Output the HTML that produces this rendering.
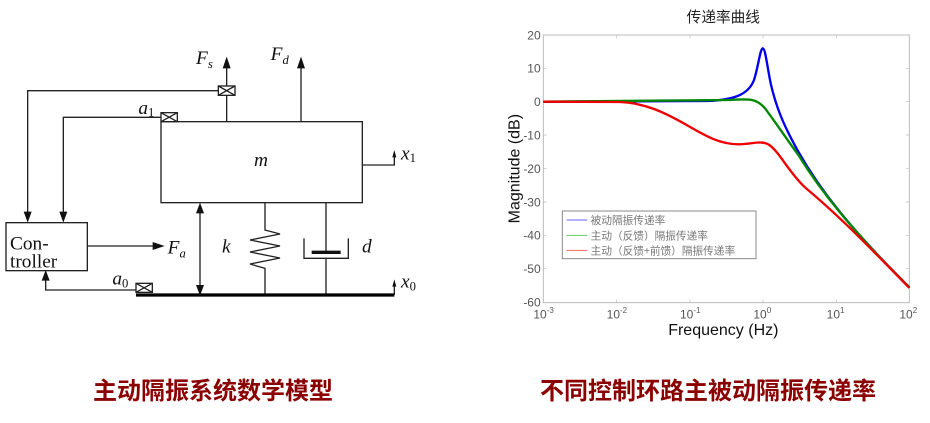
<!DOCTYPE html>
<html><head><meta charset="utf-8"><style>
body{margin:0;width:930px;height:423px;background:#fff;position:relative;overflow:hidden;font-family:"Liberation Sans","Noto Sans CJK SC",sans-serif}
svg{position:absolute}
.cap{position:absolute;top:377px;font-size:24px;line-height:30px;font-weight:bold;color:#8b0000;font-family:"Liberation Sans","Noto Sans CJK SC",sans-serif;white-space:nowrap}
</style></head><body>
<svg style="left:0;top:30px" width="440" height="280" viewBox="0 0 1320 840">
<g stroke="#222" stroke-width="4" fill="none">
<rect x="483" y="275" width="604" height="243"/>
<line x1="680" y1="275" x2="680" y2="110"/>
<line x1="903" y1="275" x2="903" y2="110"/>
<rect x="655" y="168" width="50" height="28" fill="#fff"/>
<path d="M655,168 L705,196 M705,168 L655,196"/>
<rect x="483" y="248" width="49" height="27" fill="#fff"/>
<path d="M483,248 L532,275 M532,248 L483,275"/>
<path d="M483,262 H190 V550"/>
<path d="M655,182 H83 V550"/>
<rect x="18" y="578" width="244" height="144"/>
<path d="M262,648 H465"/>
<path d="M600,545 V770"/>
<path d="M408,780 H137 V748"/>
<rect x="408" y="760" width="49" height="27" fill="#fff"/>
<path d="M408,760 L457,787 M457,760 L408,787"/>
<path d="M795,518 V600 L840,612 L750,630 L840,648 L750,666 L840,684 L750,702 L795,715 V795"/>
<path d="M978,518 V665 M978,685 V795"/>
<path d="M912,625 V685 H1045 V625"/>
<path d="M1087,405 H1183 V380"/>
<path d="M1183,795 V768"/>
</g>
<line x1="935" y1="667" x2="1022" y2="667" stroke="#111" stroke-width="10"/>
<line x1="408" y1="795" x2="1183" y2="795" stroke="#000" stroke-width="10"/>
<g fill="#111">
<path d="M668,115 L692,115 L680,80 Z"/>
<path d="M891,115 L915,115 L903,80 Z"/>
<path d="M178,545 L202,545 L190,578 Z"/>
<path d="M71,545 L95,545 L83,578 Z"/>
<path d="M458,636 L458,660 L494,648 Z"/>
<path d="M588,550 L612,550 L600,518 Z"/>
<path d="M588,765 L612,765 L600,797 Z"/>
<path d="M125,752 L149,752 L137,720 Z"/>
<path d="M1177,382 L1189,382 L1183,360 Z"/>
<path d="M1177,770 L1189,770 L1183,748 Z"/>
</g>
<g font-family="Liberation Serif,serif" font-size="58" fill="#111">
<text x="30" y="658">Con-</text><text x="30" y="712">troller</text>
<text x="588" y="102" font-style="italic">F<tspan font-size="38" dy="12">s</tspan></text>
<text x="812" y="90" font-style="italic">F<tspan font-size="38" dy="12">d</tspan></text>
<text x="503" y="670" font-style="italic">F<tspan font-size="38" dy="12">a</tspan></text>
<text x="415" y="252" font-style="italic">a<tspan font-size="38" dy="8" font-style="normal">1</tspan></text>
<text x="337" y="764" font-style="italic">a<tspan font-size="38" dy="8" font-style="normal">0</tspan></text>
<text x="762" y="408" font-style="italic">m</text>
<text x="666" y="668" font-style="italic">k</text>
<text x="1086" y="668" font-style="italic">d</text>
<text x="1203" y="388" font-style="italic">x<tspan font-size="38" dy="8" font-style="normal">1</tspan></text>
<text x="1203" y="773" font-style="italic">x<tspan font-size="38" dy="8" font-style="normal">0</tspan></text>
</g>
</svg>

<svg style="left:500px;top:0" width="430" height="340" viewBox="0 0 1290 1020">
<rect x="130" y="105" width="1098" height="803" fill="#fff" stroke="#bbb" stroke-width="3"/>
<g stroke="#bbb" stroke-width="2">
<path d="M130,205 h10 M130,305 h10 M130,405 h10 M130,506 h10 M130,606 h10 M130,706 h10 M130,806 h10 M1228,205 h-10 M1228,305 h-10 M1228,405 h-10 M1228,506 h-10 M1228,606 h-10 M1228,706 h-10 M1228,806 h-10"/>
<path d="M350,908 v-10 M570,908 v-10 M789,908 v-10 M1009,908 v-10 M350,105 v10 M570,105 v10 M789,105 v10 M1009,105 v10"/>
</g>
<g font-size="36" fill="#555" text-anchor="end" font-family="Liberation Sans,sans-serif">
<text x="122" y="118">20</text><text x="122" y="218">10</text><text x="122" y="318">0</text><text x="122" y="418">-10</text><text x="122" y="519">-20</text><text x="122" y="619">-30</text><text x="122" y="719">-40</text><text x="122" y="819">-50</text><text x="122" y="920">-60</text>
</g>
<g font-size="36" fill="#555" font-family="Liberation Sans,sans-serif">
<text x="100" y="955">10<tspan font-size="24" dy="-16">-3</tspan></text>
<text x="320" y="955">10<tspan font-size="24" dy="-16">-2</tspan></text>
<text x="540" y="955">10<tspan font-size="24" dy="-16">-1</tspan></text>
<text x="760" y="955">10<tspan font-size="24" dy="-16">0</tspan></text>
<text x="980" y="955">10<tspan font-size="24" dy="-16">1</tspan></text>
<text x="1198" y="955">10<tspan font-size="24" dy="-16">2</tspan></text>
</g>
<text x="670" y="1005" font-size="48" text-anchor="middle" fill="#111" font-family="Liberation Sans,sans-serif">Frequency  (Hz)</text>
<text transform="translate(58,506) rotate(-90)" font-size="48" text-anchor="middle" fill="#111" font-family="Liberation Sans,sans-serif">Magnitude (dB)</text>
<text x="670" y="66" font-size="44" text-anchor="middle" fill="#222" font-family="Noto Sans CJK SC,sans-serif">传递率曲线</text>
<g fill="none" stroke-width="7" stroke-linejoin="round">
<path stroke="#0000ee" d="M130,305 L620,303 C700,300 745,285 762,240 C775,200 780,148 788,145 C796,145 800,190 812,250 C828,320 850,375 895,455 C960,570 1050,685 1228,862"/>
<path stroke="#008800" d="M130,305 L690,300 C750,296 770,296 795,325 C825,365 855,410 895,465 C960,570 1050,685 1228,862"/>
<path stroke="#ee0000" d="M130,305 L360,306 C430,308 490,335 560,375 C620,410 660,432 715,433 C760,432 785,420 808,435 C840,458 865,515 915,562 C990,625 1060,690 1228,864"/>
</g>
<rect x="187" y="633" width="581" height="143" fill="#fff" stroke="#888" stroke-width="3"/>
<g stroke-width="3"><line x1="200" y1="660" x2="262" y2="660" stroke="#66f"/><line x1="200" y1="706" x2="262" y2="706" stroke="#6c6"/><line x1="200" y1="751" x2="262" y2="751" stroke="#f66"/></g>
<g font-size="32" fill="#777" font-family="Noto Sans CJK SC,sans-serif">
<text x="272" y="672">被动隔振传递率</text>
<text x="272" y="718">主动（反馈）隔振传递率</text>
<text x="272" y="763">主动（反馈+前馈）隔振传递率</text>
</g>
</svg>
<div class="cap" style="left:93px">主动隔振系统数学模型</div>
<div class="cap" style="left:540px">不同控制环路主被动隔振传递率</div>
</body></html>
